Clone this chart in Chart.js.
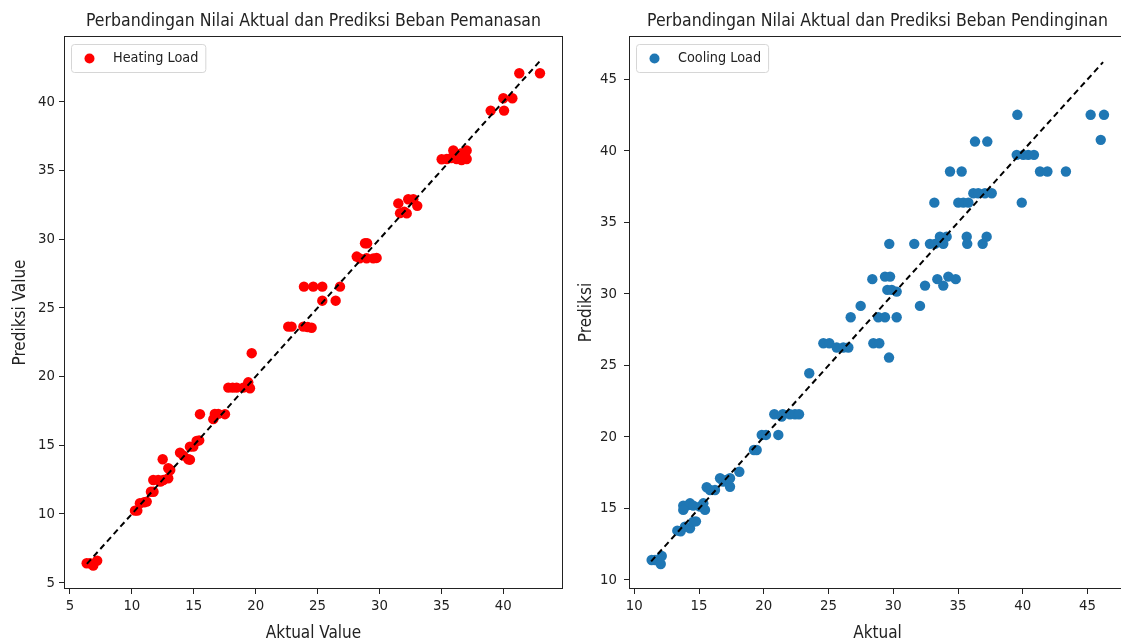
<!DOCTYPE html>
<html>
<head>
<meta charset="utf-8">
<script src="https://cdn.jsdelivr.net/npm/chart.js@4.4.1/dist/chart.umd.min.js"></script>
<style>
html, body { margin: 0; padding: 0; background: #fff; overflow: hidden; width: 1121px; height: 643px; position: relative; }
#cl { position: absolute; left: 0; top: 0; }
#cr { position: absolute; left: 575px; top: 0; }
</style>
</head>
<body>
<canvas id="cl" width="575" height="643"></canvas>
<canvas id="cr" width="564" height="643"></canvas>
<script>
// ---------------- DATA ----------------
const heatActual = [6.35, 6.62, 6.88, 7.2,
  10.25, 10.44, 10.65, 11.0, 11.2,
  11.54, 11.75,
  11.73, 12.13, 12.54, 12.3,
  12.49,
  12.94, 13.1, 12.94,
  13.89, 14.15,
  14.56, 14.69,
  14.69, 14.96,
  15.23, 15.44,
  15.5,
  16.58, 16.7, 16.98, 17.52,
  17.79, 18.14, 18.46, 19.0, 19.4, 19.54,
  19.68,
  22.63, 22.9, 23.85, 24.2, 24.52,
  23.9, 24.65, 25.38, 26.81,
  25.38, 26.46,
  28.16, 28.4, 28.83, 29.0, 28.96, 29.5, 29.77,
  31.52, 32.32, 32.73, 33.05, 31.66, 32.2, 32.0,
  35.02, 35.43, 35.96, 36.23, 36.63, 37.04, 37.04, 36.63, 35.8, 36.2,
  38.98, 40.06,
  40.0, 40.73,
  41.29, 42.96];
const heatPred = [6.41, 6.41, 6.24, 6.6,
  10.24, 10.24, 10.78, 10.85, 10.9,
  11.62, 11.62,
  12.47, 12.47, 12.47, 12.35,
  13.98,
  13.33, 13.2, 12.6,
  14.46, 14.25,
  13.98, 13.95,
  14.9, 14.9,
  15.31, 15.35,
  17.26,
  16.9, 17.28, 17.28, 17.26,
  19.19, 19.19, 19.19, 19.19, 19.58, 19.15,
  21.7,
  23.63, 23.63, 23.63, 23.6, 23.55,
  26.54, 26.54, 26.54, 26.54,
  25.52, 25.52,
  28.73, 28.6, 29.7, 29.7, 28.61, 28.6, 28.63,
  32.6, 32.9, 32.9, 32.42, 31.89, 31.87, 32.0,
  35.81, 35.83, 36.45, 35.83, 36.26, 36.45, 35.83, 35.76, 35.9, 36.2,
  39.35, 39.35,
  40.25, 40.25,
  42.07, 42.07];

const coolActual = [11.34, 11.6, 12.12, 12.04,
  13.32, 13.58,
  13.78, 14.04, 14.3, 14.55, 13.78,
  13.91, 14.3, 14.56, 14.76,
  15.07, 15.33, 15.46,
  15.59, 15.85, 16.23, 16.62, 16.87, 17.1, 17.39, 17.39,
  18.11,
  19.24, 19.45,
  19.84, 20.17,
  20.81, 21.12, 21.38, 21.47, 22.02, 22.41, 22.72,
  23.51,
  24.6, 25.06,
  25.63, 26.14, 26.53,
  26.71, 27.48, 28.84, 29.36, 30.26, 32.06,
  28.46, 28.92,
  29.67,
  28.38, 29.36, 29.75, 29.54, 29.88, 30.26, 32.45, 33.4, 33.86, 34.25, 34.82,
  29.69, 31.62, 32.83, 33.22, 33.6, 34.12, 33.86, 35.67, 35.71, 36.9, 37.21,
  33.17, 35.02, 35.41, 35.8, 36.18, 36.56, 37.08, 37.6, 39.92,
  34.38, 35.28,
  36.31, 37.26,
  39.53, 40.04, 40.42, 40.86,
  39.58,
  45.24, 46.27, 46.02,
  41.33, 41.9, 43.33];
const coolPred = [11.4, 11.4, 11.68, 11.12,
  13.45, 13.41,
  15.2, 15.2, 15.36, 15.2, 14.9,
  13.73, 13.61, 14.08, 14.1,
  15.13, 15.36, 14.9,
  16.48, 16.29, 16.29, 17.11, 16.88, 17.0, 16.52, 17.11,
  17.57,
  19.09, 19.09,
  20.14, 20.14,
  21.59, 20.14, 21.42, 21.59, 21.59, 21.59, 21.59,
  24.45,
  26.55, 26.55,
  26.25, 26.25, 26.25,
  28.37, 29.16, 28.37, 28.37, 28.37, 29.16,
  26.55, 26.55,
  25.55,
  31.03, 31.21, 31.21, 30.28, 30.28, 30.16, 30.58, 31.03, 30.58, 31.21, 31.03,
  33.5, 33.5, 33.5, 33.5, 34.0, 34.0, 33.5, 34.0, 33.5, 33.5, 34.0,
  36.38, 36.38, 36.38, 36.38, 37.04, 37.04, 37.04, 37.04, 36.38,
  38.56, 38.56,
  40.65, 40.65,
  39.72, 39.72, 39.72, 39.72,
  42.52,
  42.52, 42.52, 40.77,
  38.56, 38.56, 38.56];

// reference (perfect prediction) line endpoints = min/max of actual values
const heatRefLine = [6.37, 42.96];
const coolRefLine = [11.3, 46.2];

// tick labels
const heatXTicks = [5, 10, 15, 20, 25, 30, 35, 40];
const heatYTicks = [5, 10, 15, 20, 25, 30, 35, 40];
const coolXTicks = [10, 15, 20, 25, 30, 35, 40, 45];
const coolYTicks = [10, 15, 20, 25, 30, 35, 40, 45];

// axis ranges
const heatXRange = [4.52, 44.82];
const heatYRange = [4.54, 44.78];
const coolXRange = [9.59, 47.97];
const coolYRange = [9.37, 48.03];

// texts
const heatTitle = 'Perbandingan Nilai Aktual dan Prediksi Beban Pemanasan';
const coolTitle = 'Perbandingan Nilai Aktual dan Prediksi Beban Pendinginan';
const heatLabel = 'Heating Load';
const coolLabel = 'Cooling Load';
const heatXTitle = 'Aktual Value';
const heatYTitle = 'Prediksi Value';
const coolXTitle = 'Aktual';
const coolYTitle = 'Prediksi';

// ---------------- RENDERING ----------------
const FONT = "'DejaVu Sans Condensed', 'DejaVu Sans', sans-serif";
const TXT = '#222';

const mplDecor = {
  id: 'mplDecor',
  afterDraw(chart) {
    const { ctx, chartArea: a } = chart;
    const ds = chart.data.datasets[1];
    ctx.save();
    // axes box
    ctx.strokeStyle = '#222';
    ctx.lineWidth = 1;
    ctx.strokeRect(Math.round(a.left) + 0.5, Math.round(a.top) + 0.5,
                   Math.round(a.right) - Math.round(a.left) - 1, Math.round(a.bottom) - Math.round(a.top) - 1);
    // legend
    ctx.font = '14.3px ' + FONT;
    const tw = ctx.measureText(ds.label).width;
    const fx = a.left + 7, fy = a.top + 8, fw = 42 + tw + 7, fh = 28;
    ctx.beginPath();
    ctx.roundRect(fx + 0.5, fy + 0.5, fw, fh, 3);
    ctx.fillStyle = 'rgba(255,255,255,0.8)';
    ctx.fill();
    ctx.strokeStyle = '#d6d6d6';
    ctx.stroke();
    ctx.beginPath();
    ctx.arc(a.left + 25.5, a.top + 22.5, 5, 0, Math.PI * 2);
    ctx.fillStyle = ds.backgroundColor;
    ctx.fill();
    ctx.fillStyle = TXT;
    ctx.textBaseline = 'middle';
    ctx.textAlign = 'left';
    ctx.fillText(ds.label, a.left + 49, a.top + 22.5);
    ctx.restore();
  }
};

function build(canvasId, o) {
  const pts = o.actual.map((v, i) => ({ x: v, y: o.pred[i] }));
  const axisCommon = (ticksArr, range, title, titlePad, tickPad) => ({
    type: 'linear',
    min: range[0],
    max: range[1],
    afterBuildTicks: s => { s.ticks = ticksArr.map(v => ({ value: v })); },
    ticks: {
      font: { size: 14.8, family: FONT },
      color: TXT,
      padding: tickPad,
      autoSkip: false,
      maxRotation: 0,
      callback: v => String(v)
    },
    grid: { display: true, drawOnChartArea: false, drawTicks: true, tickLength: 5, color: '#222', lineWidth: 1 },
    border: { display: false },
    title: { display: true, text: title, font: { size: 17, family: FONT }, color: TXT, padding: titlePad }
  });
  const xAxis = axisCommon(o.xTicks, o.xRange, o.xTitle, { top: 0, bottom: -1 }, 3);
  xAxis.afterFit = s => { s.height = 54; };
  const yAxis = axisCommon(o.yTicks, o.yRange, o.yTitle, { top: o.yTitleTop, bottom: 0 }, o.yTickPad);
  yAxis.afterFit = s => { s.width = o.yWidth; };

  return new Chart(document.getElementById(canvasId), {
    type: 'scatter',
    data: {
      datasets: [
        {
          type: 'line',
          label: 'ref',
          data: [{ x: o.ref[0], y: o.ref[0] }, { x: o.ref[1], y: o.ref[1] }],
          borderColor: '#000',
          borderWidth: 2,
          borderDash: [6, 4],
          pointRadius: 0,
          fill: false,
          order: 0
        },
        {
          label: o.label,
          data: pts,
          backgroundColor: o.color,
          borderColor: o.color,
          borderWidth: 0,
          pointRadius: 5.2,
          pointHoverRadius: 5.2,
          order: 1
        }
      ]
    },
    options: {
      responsive: false,
      animation: false,
      layout: { padding: { left: 0, top: 0, right: o.padRight, bottom: 0 } },
      scales: { x: xAxis, y: yAxis },
      plugins: {
        legend: { display: false },
        tooltip: { enabled: false },
        title: {
          display: true,
          text: o.title,
          fullSize: false,
          color: TXT,
          font: { size: 17.5, family: FONT, weight: 'normal' },
          padding: { top: 11.3, bottom: 3.7 }
        }
      }
    },
    plugins: [mplDecor]
  });
}

build('cl', {
  actual: heatActual, pred: heatPred, ref: heatRefLine,
  color: '#ff0000', label: heatLabel, title: heatTitle,
  xTitle: heatXTitle, yTitle: heatYTitle,
  xTicks: heatXTicks, yTicks: heatYTicks,
  xRange: heatXRange, yRange: heatYRange,
  yWidth: 64, yTitleTop: 10, yTickPad: 4, padRight: 12
});

build('cr', {
  actual: coolActual, pred: coolPred, ref: coolRefLine,
  color: '#1f77b4', label: coolLabel, title: coolTitle,
  xTitle: coolXTitle, yTitle: coolYTitle,
  xTicks: coolXTicks, yTicks: coolYTicks,
  xRange: coolXRange, yRange: coolYRange,
  yWidth: 54, yTitleTop: 1, yTickPad: 7, padRight: 13
});
</script>
</body>
</html>
